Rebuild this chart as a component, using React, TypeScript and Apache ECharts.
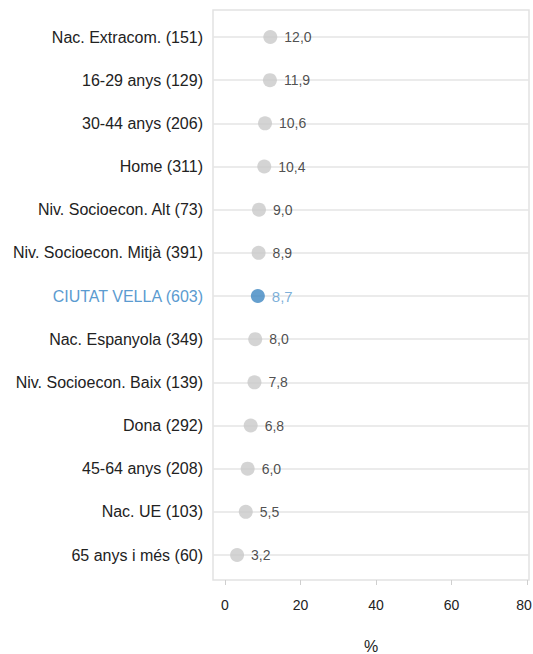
import React, { useEffect, useRef } from "react";
import * as echarts from "echarts";

const categories = [
  "Nac. Extracom. (151)",
  "16-29 anys (129)",
  "30-44 anys (206)",
  "Home (311)",
  "Niv. Socioecon. Alt (73)",
  "Niv. Socioecon. Mitjà (391)",
  "CIUTAT VELLA (603)",
  "Nac. Espanyola (349)",
  "Niv. Socioecon. Baix (139)",
  "Dona (292)",
  "45-64 anys (208)",
  "Nac. UE (103)",
  "65 anys i més (60)",
];
const values = [12.0, 11.9, 10.6, 10.4, 9.0, 8.9, 8.7, 8.0, 7.8, 6.8, 6.0, 5.5, 3.2];
const highlight = "CIUTAT VELLA (603)";
const xTicks = [0, 20, 40, 60, 80];

const BLUE_TEXT = "#5b9bd0";
const BLUE_DOT = "#3f87c2";
const GRAY_DOT = "#c9c9c9";
const TEXT = "#222";
const FONT = "'Liberation Sans', Arial, sans-serif";

export default function App() {
  const ref = useRef<HTMLDivElement>(null);
  useEffect(() => {
    if (!ref.current) return;
    const chart = echarts.init(ref.current, null, { renderer: "svg" });
    const fmt = (v: number) => v.toFixed(1).replace(".", ",");
    const lastTick = xTicks[xTicks.length - 1];
    chart.setOption({
      animation: false,
      textStyle: { fontFamily: FONT },
      grid: {
        left: 213,
        right: 4,
        top: 37,
        bottom: 99,
        containLabel: false,
        outerBoundsMode: "none",
      },
      graphic: [
        {
          type: "rect",
          z: -10,
          silent: true,
          shape: { x: 213, y: 10, width: 316, height: 570 },
          style: { fill: "none", stroke: "#e2e2e2", lineWidth: 1.5 },
        },
      ],
      xAxis: {
        type: "value",
        min: -3.18,
        max: 80.53,
        offset: 25,
        axisLine: { show: false },
        axisTick: {
          show: true,
          length: 5,
          customValues: xTicks,
          lineStyle: { color: "#cfcfcf" },
        },
        axisLabel: {
          customValues: xTicks,
          color: TEXT,
          fontSize: 14,
          fontFamily: FONT,
          margin: 18,
          formatter: (v: number) => (v === lastTick ? `{e|${v}}` : `${v}`),
          rich: {
            e: {
              fontSize: 14,
              fontFamily: FONT,
              color: TEXT,
              padding: [0, 6, 0, 0],
            },
          },
        },
        splitLine: { show: false },
        name: "%",
        nameLocation: "middle",
        nameGap: 58,
        nameTextStyle: { color: TEXT, fontSize: 16, fontFamily: FONT },
      },
      yAxis: {
        type: "category",
        data: categories,
        inverse: true,
        boundaryGap: false,
        axisLine: { show: false },
        axisTick: { show: false },
        axisLabel: {
          fontSize: 16,
          fontFamily: FONT,
          margin: 10,
          color: (v: string) => (v === highlight ? BLUE_TEXT : TEXT),
        },
        splitLine: { show: true, lineStyle: { color: "#e4e4e4", width: 1.5 } },
      },
      series: [
        {
          type: "scatter",
          symbolSize: 14,
          data: values.map((v, i) => ({
            value: [v, categories[i]],
            itemStyle: { color: categories[i] === highlight ? BLUE_DOT : GRAY_DOT },
            label: {
              color: categories[i] === highlight ? BLUE_TEXT : TEXT,
              fontSize: categories[i] === highlight ? 15 : 14,
            },
          })),
          label: {
            show: true,
            position: "right",
            distance: 7,
            fontFamily: FONT,
            formatter: (p: any) => fmt(p.value[0]),
          },
        },
      ],
    });
    return () => chart.dispose();
  }, []);
  return (
    <div
      ref={ref}
      style={{ position: "fixed", left: 0, top: 0, width: 533, height: 654, background: "#fff" }}
    />
  );
}
